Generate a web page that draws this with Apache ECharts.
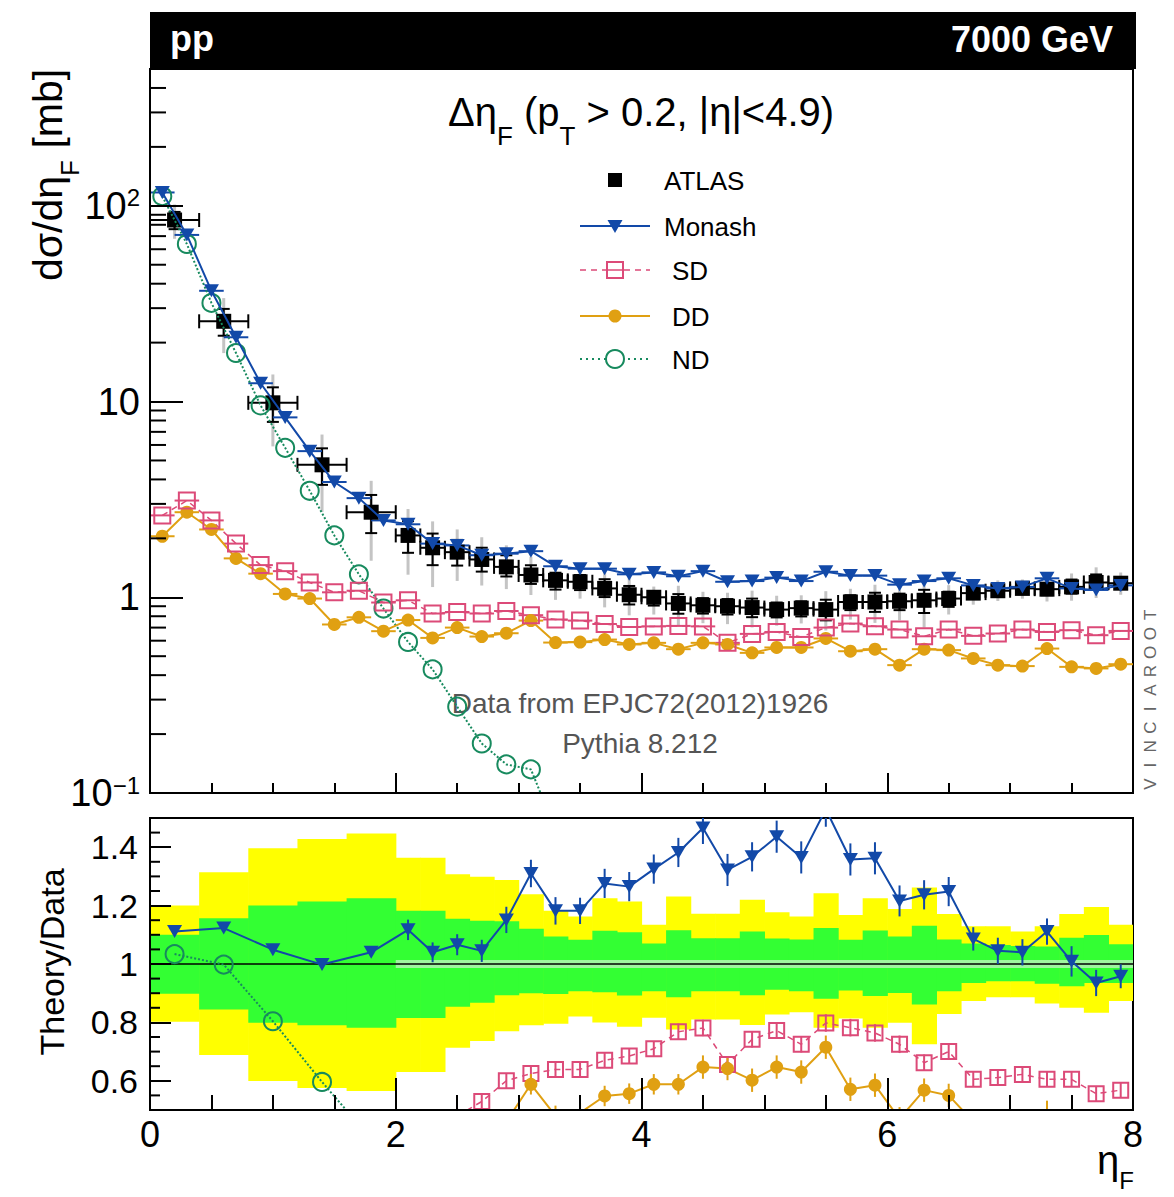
<!DOCTYPE html>
<html><head><meta charset="utf-8">
<script src="https://cdn.jsdelivr.net/npm/echarts@6/dist/echarts.min.js"></script>
<style>html,body{margin:0;padding:0;background:#fff}#c{width:1174px;height:1197px}</style>
</head><body><div id="c"></div>
<script>
// ---------------- DATA ----------------
// ATLAS data bins
const dataX = [0.2,0.6,1.0,1.4,1.8,2.1,2.3,2.5,2.7,2.9,3.1,3.3,3.5,3.7,3.9,4.1,4.3,4.5,4.7,4.9,5.1,5.3,5.5,5.7,5.9,6.1,6.3,6.5,6.7,6.9,7.1,7.3,7.5,7.7,7.9];
const binLo = [0,0.4,0.8,1.2,1.6,2.0,2.2,2.4,2.6,2.8,3.0,3.2,3.4,3.6,3.8,4.0,4.2,4.4,4.6,4.8,5.0,5.2,5.4,5.6,5.8,6.0,6.2,6.4,6.6,6.8,7.0,7.2,7.4,7.6,7.8];
const binHi = [0.4,0.8,1.2,1.6,2.0,2.2,2.4,2.6,2.8,3.0,3.2,3.4,3.6,3.8,4.0,4.2,4.4,4.6,4.8,5.0,5.2,5.4,5.6,5.8,6.0,6.2,6.4,6.6,6.8,7.0,7.2,7.4,7.6,7.8,8.0];
const atlas = [84.6,25.7,9.85,4.75,2.72,2.07,1.79,1.70,1.56,1.43,1.30,1.22,1.20,1.11,1.03,1.00,0.93,0.91,0.90,0.886,0.865,0.88,0.865,0.946,0.946,0.954,0.965,0.985,1.05,1.08,1.11,1.10,1.13,1.19,1.18];
// relative uncertainty bands (ratio panel): yellow = total, green = inner
const yelHi = [1.200,1.314,1.396,1.428,1.447,1.364,1.364,1.307,1.299,1.288,1.239,1.182,1.163,1.225,1.214,1.134,1.231,1.172,1.172,1.220,1.177,1.163,1.242,1.168,1.225,1.188,1.262,1.171,1.129,1.129,1.111,1.129,1.171,1.195,1.134];
const yelLo = [0.802,0.688,0.599,0.575,0.565,0.630,0.630,0.713,0.736,0.770,0.790,0.795,0.820,0.800,0.785,0.816,0.776,0.810,0.810,0.791,0.827,0.835,0.782,0.813,0.782,0.799,0.725,0.829,0.873,0.886,0.886,0.865,0.850,0.833,0.873];
const grnHi = [1.100,1.157,1.200,1.214,1.225,1.182,1.182,1.155,1.148,1.146,1.121,1.094,1.083,1.114,1.109,1.070,1.116,1.088,1.088,1.111,1.087,1.084,1.123,1.083,1.115,1.094,1.131,1.084,1.070,1.065,1.062,1.060,1.090,1.099,1.068];
const grnLo = [0.898,0.844,0.799,0.790,0.782,0.815,0.815,0.854,0.867,0.893,0.900,0.897,0.907,0.903,0.892,0.907,0.886,0.907,0.907,0.893,0.912,0.907,0.881,0.909,0.890,0.901,0.861,0.907,0.935,0.941,0.941,0.932,0.924,0.935,0.935];
const mcStatBand = {from: 2.0, to: 8.0, half: 0.014};

// MC (0.2 bins)
const mcX = [0.1,0.3,0.5,0.7,0.9,1.1,1.3,1.5,1.7,1.9,2.1,2.3,2.5,2.7,2.9,3.1,3.3,3.5,3.7,3.9,4.1,4.3,4.5,4.7,4.9,5.1,5.3,5.5,5.7,5.9,6.1,6.3,6.5,6.7,6.9,7.1,7.3,7.5,7.7,7.9];
const mcHalfBin = 0.1;
const monash = [117,71,36.8,21.3,12.4,8.3,5.58,3.88,3.21,2.47,2.36,1.88,1.84,1.64,1.67,1.72,1.44,1.40,1.40,1.31,1.34,1.28,1.36,1.20,1.21,1.26,1.21,1.35,1.29,1.29,1.16,1.21,1.25,1.15,1.11,1.13,1.25,1.11,1.09,1.15];
const sd = [2.62,3.12,2.47,1.88,1.46,1.36,1.19,1.06,1.08,0.94,0.965,0.826,0.841,0.826,0.851,0.81,0.77,0.76,0.73,0.705,0.71,0.714,0.71,0.585,0.65,0.665,0.627,0.70,0.734,0.711,0.684,0.632,0.684,0.635,0.653,0.684,0.665,0.679,0.64,0.673];
const dd = [2.05,2.72,2.22,1.58,1.32,1.04,0.985,0.726,0.79,0.671,0.765,0.62,0.70,0.63,0.655,0.76,0.587,0.59,0.608,0.574,0.585,0.543,0.585,0.574,0.52,0.554,0.554,0.616,0.53,0.543,0.45,0.543,0.537,0.487,0.45,0.445,0.547,0.441,0.433,0.455];
const ndX = [0.1,0.3,0.5,0.7,0.9,1.1,1.3,1.5,1.7,1.9,2.1,2.3,2.5,2.7,2.9,3.1,3.3];
const nd = [112,63.8,31.9,17.7,9.55,5.8,3.5,2.07,1.31,0.876,0.591,0.428,0.276,0.179,0.140,0.132,0.065];

// Ratio panel (theory / data), at data bins
const monashRatio = [1.111,1.123,1.049,0.998,1.040,1.117,1.040,1.066,1.045,1.151,1.310,1.182,1.182,1.276,1.265,1.325,1.382,1.466,1.322,1.367,1.436,1.365,1.53,1.358,1.362,1.216,1.237,1.248,1.086,1.045,1.040,1.111,1.009,0.935,0.958];
const monashRatioErr = [0.004,0.005,0.006,0.008,0.012,0.035,0.034,0.036,0.038,0.045,0.047,0.047,0.045,0.05,0.05,0.05,0.05,0.055,0.055,0.05,0.055,0.055,0.06,0.055,0.055,0.053,0.05,0.05,0.04,0.045,0.045,0.045,0.052,0.045,0.041];
const sdRatioX = [2.5,2.7,2.9,3.1,3.3,3.5,3.7,3.9,4.1,4.3,4.5,4.7,4.9,5.1,5.3,5.5,5.7,5.9,6.1,6.3,6.5,6.7,6.9,7.1,7.3,7.5,7.7,7.9];
const sdRatio = [0.48,0.529,0.60,0.625,0.639,0.639,0.67,0.685,0.71,0.768,0.781,0.656,0.742,0.772,0.725,0.798,0.782,0.764,0.725,0.662,0.70,0.605,0.611,0.622,0.605,0.605,0.556,0.568];
const sdRatioErr = [0.025,0.025,0.025,0.025,0.025,0.025,0.025,0.025,0.025,0.028,0.028,0.028,0.028,0.028,0.028,0.03,0.03,0.03,0.03,0.028,0.028,0.025,0.025,0.025,0.025,0.025,0.025,0.025];
const ddRatioX = [2.7,2.9,3.1,3.3,3.5,3.7,3.9,4.1,4.3,4.5,4.7,4.9,5.1,5.3,5.5,5.7,5.9,6.1,6.3,6.5,6.7,6.9,7.1,7.3,7.5,7.7,7.9];
const ddRatio = [0.40,0.46,0.588,0.48,0.49,0.548,0.556,0.588,0.588,0.647,0.642,0.602,0.647,0.63,0.715,0.571,0.585,0.47,0.568,0.55,0.46,0.42,0.40,0.497,0.39,0.36,0.385];
const ddRatioErr = [0.035,0.035,0.035,0.035,0.035,0.035,0.035,0.035,0.035,0.04,0.04,0.04,0.04,0.04,0.04,0.04,0.04,0.04,0.04,0.04,0.035,0.035,0.035,0.035,0.035,0.035,0.035];
const ndRatioX = [0.2,0.6,1.0,1.4,1.8];
const ndRatio = [1.034,0.998,0.804,0.596,0.40];

// tick values
const logMinorTicks = [0.2,0.3,0.4,0.5,0.6,0.7,0.8,0.9,2,3,4,5,6,7,8,9,20,30,40,50,60,70,80,90,200,300,400];
const ratioMinorTicks = [0.55,0.65,0.7,0.75,0.85,0.9,0.95,1.05,1.1,1.15,1.25,1.3,1.35,1.45];

// ---------------- STYLE ----------------
const FONT = '"Liberation Sans", Arial, Helvetica, sans-serif';
const C_MON = '#1249a8', C_SD = '#dc4a78', C_DD = '#e0a012', C_ND = '#178a5e';
const NOFILL = 'rgba(255,255,255,0)';
const ctx = document.createElement('canvas').getContext('2d');
function tw(t, size, weight) { ctx.font = (weight || 'normal') + ' ' + size + 'px ' + FONT; return ctx.measureText(t).width; }
function txt(text, x, y, size, opt) {
  opt = opt || {};
  return {type: 'text', x: x, y: y, silent: true, style: {text: text, fontSize: size, fontFamily: FONT, fontWeight: opt.weight || 'normal',
    fill: opt.color || '#000', align: opt.align || 'left', verticalAlign: 'middle', textAlign: opt.align || 'left', textVerticalAlign: 'middle'}};
}
function runText(parts, x, y, align, rotation, color) {
  const widths = parts.map(p => tw(p[0], p[1]));
  const total = widths.reduce((a, b) => a + b, 0);
  let x0 = align === 'center' ? -total / 2 : (align === 'right' ? -total : 0);
  const children = [];
  parts.forEach((p, i) => { children.push(txt(p[0], x0, p[2], p[1], {color: color})); x0 += widths[i]; });
  return {type: 'group', x: x, y: y, rotation: rotation || 0, children: children, silent: true};
}

const chart = echarts.init(document.getElementById('c'), null, {renderer: 'svg', width: 1174, height: 1197});

function hbarSeries(xs, ys, color, name) {
  return {type: 'custom', name: name, xAxisIndex: 0, yAxisIndex: 0, clip: true, silent: true, z: 4,
    data: xs.map((x, i) => [x, ys[i]]),
    renderItem: (p, api) => {
      const a = api.coord([api.value(0) - mcHalfBin, api.value(1)]);
      const b = api.coord([api.value(0) + mcHalfBin, api.value(1)]);
      return {type: 'line', shape: {x1: a[0], y1: a[1], x2: b[0], y2: b[1]}, style: {stroke: color, lineWidth: 2}};
    }};
}
function verrSeries(xs, ys, errs, color) {
  return {type: 'custom', xAxisIndex: 1, yAxisIndex: 1, clip: true, silent: true, z: 4,
    data: xs.map((x, i) => [x, ys[i], errs[i]]),
    renderItem: (p, api) => {
      const a = api.coord([api.value(0), api.value(1) - api.value(2)]);
      const b = api.coord([api.value(0), api.value(1) + api.value(2)]);
      return {type: 'line', shape: {x1: a[0], y1: a[1], x2: b[0], y2: b[1]}, style: {stroke: color, lineWidth: 2}};
    }};
}
function bandSeries(lo, hi, color, z) {
  return {type: 'custom', xAxisIndex: 1, yAxisIndex: 1, clip: true, silent: true, z: z,
    data: binLo.map((b, i) => [b, binHi[i], lo[i], hi[i]]),
    renderItem: (p, api) => {
      const a = api.coord([api.value(0), api.value(3)]);
      const b = api.coord([api.value(1), api.value(2)]);
      return {type: 'rect', shape: {x: a[0], y: a[1], width: b[0] - a[0] + 0.6, height: b[1] - a[1]}, style: {fill: color}};
    }};
}
function minorTickSeries(vals, xi, yi, len) {
  return {type: 'custom', xAxisIndex: xi, yAxisIndex: yi, silent: true, z: 12, clip: false,
    data: vals.map(v => [0, v]),
    renderItem: (p, api) => {
      const a = api.coord([0, api.value(1)]);
      return {type: 'line', shape: {x1: a[0], y1: a[1], x2: a[0] + len, y2: a[1]}, style: {stroke: '#000', lineWidth: 2}};
    }};
}
const openStyle = (c) => ({color: NOFILL, borderColor: c, borderWidth: 2, opacity: 1});

const axisLineS = {show: true, lineStyle: {color: '#000', width: 2}};
const option = {
  animation: false,
  backgroundColor: '#fff',
  grid: [
    {left: 150, top: 69, width: 983, height: 724, show: true, borderColor: '#000', borderWidth: 2, backgroundColor: 'transparent', outerBoundsMode: 'none', containLabel: false},
    {left: 150, top: 818, width: 983, height: 292, show: true, borderColor: '#000', borderWidth: 2, backgroundColor: 'transparent', outerBoundsMode: 'none', containLabel: false}
  ],
  xAxis: [
    {gridIndex: 0, type: 'value', min: 0, max: 8, interval: 2, z: 10, axisLine: axisLineS,
     axisTick: {show: true, inside: true, length: 20, lineStyle: {color: '#000', width: 2}},
     minorTick: {show: true, splitNumber: 4, length: 10, lineStyle: {color: '#000', width: 2}},
     axisLabel: {show: false}, splitLine: {show: false}, minorSplitLine: {show: false}},
    {gridIndex: 1, type: 'value', min: 0, max: 8, interval: 2, z: 10, axisLine: axisLineS,
     axisTick: {show: true, inside: true, length: 32, lineStyle: {color: '#000', width: 2}},
     minorTick: {show: true, splitNumber: 4, length: 15, lineStyle: {color: '#000', width: 2}},
     axisLabel: {show: true, fontSize: 36, color: '#000', fontFamily: FONT, margin: 6},
     splitLine: {show: false}, minorSplitLine: {show: false}}
  ],
  yAxis: [
    {gridIndex: 0, type: 'log', logBase: 10, min: 0.1, max: 500, z: 10, axisLine: axisLineS,
     axisTick: {show: true, inside: true, length: 33, lineStyle: {color: '#000', width: 2}},
     splitLine: {show: false},
     axisLabel: {fontSize: 38, color: '#000', fontFamily: FONT, margin: 10, showMaxLabel: false,
       formatter: v => { const l = Math.log10(v), r = Math.round(l); if (Math.abs(l - r) > 1e-6) return ''; if (r === 0) return '1'; if (r === 1) return '10'; return '{b|10}{s|' + String(r).replace('-', '\u2212') + '}'; },
       rich: {b: {fontSize: 38, fontFamily: FONT, color: '#000', lineHeight: 40}, s: {fontSize: 24, fontFamily: FONT, color: '#000', verticalAlign: 'top', lineHeight: 28, padding: [0, 0, 14, 0]}}}},
    {gridIndex: 1, type: 'value', min: 0.5, max: 1.5, splitNumber: 5, z: 10, axisLine: axisLineS,
     axisTick: {show: true, inside: true, length: 21, lineStyle: {color: '#000', width: 2}},
     splitLine: {show: false},
     axisLabel: {fontSize: 34, color: '#000', fontFamily: FONT, margin: 12, showMinLabel: false, showMaxLabel: false,
       formatter: v => (Math.abs(v - 0.5) < 1e-6 || Math.abs(v - 1.5) < 1e-6) ? '' : (Math.abs(v - 1) < 1e-6 ? '1' : v.toFixed(1))}}
  ],
  series: [
    // ratio panel
    bandSeries(yelLo, yelHi, '#ffff00', 1),
    bandSeries(grnLo, grnHi, '#33ff33', 2),
    {type: 'custom', xAxisIndex: 1, yAxisIndex: 1, silent: true, z: 2, clip: true, data: [[mcStatBand.from, mcStatBand.to, 1 - mcStatBand.half, 1 + mcStatBand.half]],
     renderItem: (p, api) => { const a = api.coord([api.value(0), api.value(3)]); const b = api.coord([api.value(1), api.value(2)]);
       return {type: 'rect', shape: {x: a[0], y: a[1], width: b[0] - a[0], height: b[1] - a[1]}, style: {fill: '#9ef59e'}}; }},
    {type: 'line', xAxisIndex: 1, yAxisIndex: 1, data: [[0, 1], [8, 1]], symbol: 'none', silent: true, z: 3, lineStyle: {color: '#000', width: 1.5}},
    minorTickSeries(ratioMinorTicks, 1, 1, 10),
    {type: 'line', name: 'ND ratio', xAxisIndex: 1, yAxisIndex: 1, z: 5, data: ndRatioX.map((x, i) => [x, ndRatio[i]]),
     symbol: 'circle', symbolSize: 18, itemStyle: openStyle(C_ND), lineStyle: {color: C_ND, width: 2, type: 'dotted'}, clip: true},
    verrSeries(sdRatioX, sdRatio, sdRatioErr, C_SD),
    {type: 'line', name: 'SD ratio', xAxisIndex: 1, yAxisIndex: 1, z: 5, data: sdRatioX.map((x, i) => [x, sdRatio[i]]),
     symbol: 'rect', symbolSize: 15, itemStyle: openStyle(C_SD), lineStyle: {color: C_SD, width: 1.5, type: [6, 5]}, clip: true},
    verrSeries(ddRatioX, ddRatio, ddRatioErr, C_DD),
    {type: 'line', name: 'DD ratio', xAxisIndex: 1, yAxisIndex: 1, z: 5, data: ddRatioX.map((x, i) => [x, ddRatio[i]]),
     symbol: 'circle', symbolSize: 13, itemStyle: {color: C_DD, opacity: 1}, lineStyle: {color: C_DD, width: 2}, clip: true},
    verrSeries(dataX, monashRatio, monashRatioErr, C_MON),
    {type: 'line', name: 'Monash ratio', xAxisIndex: 1, yAxisIndex: 1, z: 5, data: dataX.map((x, i) => [x, monashRatio[i]]),
     symbol: 'triangle', symbolRotate: 180, symbolSize: [15, 13], itemStyle: {color: C_MON, opacity: 1}, lineStyle: {color: C_MON, width: 2}, clip: true},

    // top panel
    minorTickSeries(logMinorTicks, 0, 0, 16),
    {type: 'custom', name: 'ATLAS errors', xAxisIndex: 0, yAxisIndex: 0, clip: true, silent: true, z: 3,
     data: dataX.map((x, i) => [x, atlas[i], binLo[i], binHi[i], atlas[i] * yelLo[i], atlas[i] * yelHi[i], atlas[i] * grnLo[i], atlas[i] * grnHi[i]]),
     renderItem: (p, api) => {
       const c = api.coord([api.value(0), api.value(1)]);
       const xl = api.coord([api.value(2), api.value(1)])[0], xr = api.coord([api.value(3), api.value(1)])[0];
       const yl = api.coord([api.value(0), api.value(4)])[1], yh = api.coord([api.value(0), api.value(5)])[1];
       const gl = api.coord([api.value(0), api.value(6)])[1], gh = api.coord([api.value(0), api.value(7)])[1];
       const L = (x1, y1, x2, y2, col, w) => ({type: 'line', shape: {x1: x1, y1: y1, x2: x2, y2: y2}, style: {stroke: col, lineWidth: w}});
       return {type: 'group', children: [
         L(c[0], yh, c[0], yl, '#c4c4c4', 3),
         L(c[0], gh, c[0], gl, '#000', 2), L(c[0] - 6, gh, c[0] + 6, gh, '#000', 2), L(c[0] - 6, gl, c[0] + 6, gl, '#000', 2),
         L(xl, c[1], xr, c[1], '#000', 2), L(xl, c[1] - 7, xl, c[1] + 7, '#000', 2), L(xr, c[1] - 7, xr, c[1] + 7, '#000', 2)
       ]};
     }},
    {type: 'scatter', name: 'ATLAS', xAxisIndex: 0, yAxisIndex: 0, z: 4, data: dataX.map((x, i) => [x, atlas[i]]),
     symbol: 'rect', symbolSize: 15, itemStyle: {color: '#000', opacity: 1}},
    {type: 'line', name: 'ND', xAxisIndex: 0, yAxisIndex: 0, z: 5, data: ndX.map((x, i) => [x, nd[i]]),
     symbol: 'circle', symbolSize: 18, itemStyle: openStyle(C_ND), lineStyle: {color: C_ND, width: 2, type: 'dotted'}, clip: true},
    hbarSeries(mcX, dd, C_DD, 'DD bins'),
    {type: 'line', name: 'DD', xAxisIndex: 0, yAxisIndex: 0, z: 5, data: mcX.map((x, i) => [x, dd[i]]),
     symbol: 'circle', symbolSize: 13, itemStyle: {color: C_DD, opacity: 1}, lineStyle: {color: C_DD, width: 2}, clip: true},
    hbarSeries(mcX, sd, C_SD, 'SD bins'),
    {type: 'line', name: 'SD', xAxisIndex: 0, yAxisIndex: 0, z: 5, data: mcX.map((x, i) => [x, sd[i]]),
     symbol: 'rect', symbolSize: 16, itemStyle: openStyle(C_SD), lineStyle: {color: C_SD, width: 1.5, type: [6, 5]}, clip: true},
    hbarSeries(mcX, monash, C_MON, 'Monash bins'),
    {type: 'line', name: 'Monash', xAxisIndex: 0, yAxisIndex: 0, z: 6, data: mcX.map((x, i) => [x, monash[i]]),
     symbol: 'triangle', symbolRotate: 180, symbolSize: [15, 13], itemStyle: {color: C_MON, opacity: 1}, lineStyle: {color: C_MON, width: 2}, clip: true}
  ],
  graphic: [
    // header bar
    {type: 'rect', shape: {x: 150, y: 12, width: 986, height: 57}, style: {fill: '#000'}, silent: true},
    txt('pp', 170, 38, 36, {color: '#fff', weight: 'bold'}),
    txt('7000 GeV', 1113, 39, 36, {color: '#fff', weight: 'bold', align: 'right'}),
    // title
    runText([['Δη', 40, 0], ['F', 26, 24], [' (p', 40, 0], ['T', 26, 24], [' > 0.2, |η|<4.9)', 40, 0]], 641, 112, 'center', 0),
    // axis titles
    runText([['dσ/dη', 41, 0], ['F', 26, 22], [' [mb]', 41, 0]], 48, 281, 'left', Math.PI / 2),
    runText([['Theory/Data', 34, 0]], 52, 962, 'center', Math.PI / 2),
    runText([['η', 40, 0], ['F', 24, 20]], 1134, 1160, 'right', 0),
    // annotations
    txt('Data from EPJC72(2012)1926', 640, 703, 28, {color: '#555', align: 'center'}),
    txt('Pythia 8.212', 640, 743, 28, {color: '#555', align: 'center'}),
    {type: 'group', x: 1150, y: 784, rotation: Math.PI / 2, silent: true,
     children: 'VINCIAROOT'.split('').map((ch, i) => txt(ch, i * 18.8, 0, 17, {color: '#666', align: 'center'}))},
    // legend
    {type: 'rect', shape: {x: 608, y: 173, width: 14, height: 14}, style: {fill: '#000'}, silent: true},
    txt('ATLAS', 664, 181, 26),
    {type: 'line', shape: {x1: 580, y1: 226, x2: 650, y2: 226}, style: {stroke: C_MON, lineWidth: 2}, silent: true},
    {type: 'polygon', shape: {points: [[607.5, 220], [622.5, 220], [615, 233]]}, style: {fill: C_MON}, silent: true},
    txt('Monash', 664, 227, 26),
    {type: 'line', shape: {x1: 580, y1: 270, x2: 650, y2: 270}, style: {stroke: C_SD, lineWidth: 1.5, lineDash: [6, 5]}, silent: true},
    {type: 'rect', shape: {x: 607, y: 262, width: 16, height: 16}, style: {fill: '#fff', stroke: C_SD, lineWidth: 2}, silent: true},
    {type: 'line', shape: {x1: 607, y1: 270, x2: 623, y2: 270}, style: {stroke: C_SD, lineWidth: 1.5}, silent: true},
    txt('SD', 672, 271, 26),
    {type: 'line', shape: {x1: 580, y1: 316, x2: 650, y2: 316}, style: {stroke: C_DD, lineWidth: 2}, silent: true},
    {type: 'circle', shape: {cx: 615, cy: 316, r: 6.5}, style: {fill: C_DD}, silent: true},
    txt('DD', 672, 317, 26),
    {type: 'line', shape: {x1: 580, y1: 359, x2: 650, y2: 359}, style: {stroke: C_ND, lineWidth: 2, lineDash: [2, 4]}, silent: true},
    {type: 'circle', shape: {cx: 615, cy: 359, r: 9}, style: {fill: '#fff', stroke: C_ND, lineWidth: 2}, silent: true},
    txt('ND', 672, 360, 26)
  ]
};
chart.setOption(option);
</script>
</body></html>
